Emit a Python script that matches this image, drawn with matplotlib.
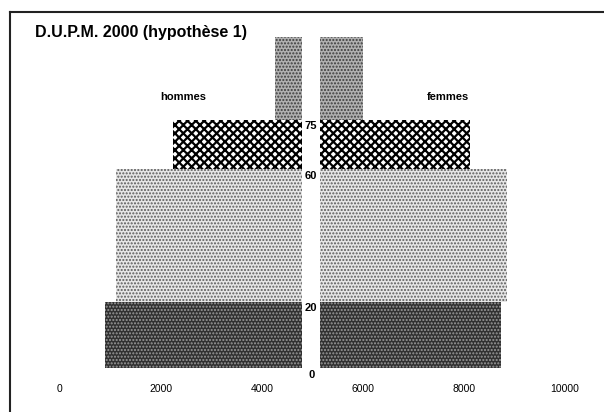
import matplotlib
matplotlib.use("Agg")
import matplotlib.pyplot as plt
from matplotlib.lines import Line2D

plt.rcParams["font.family"] = ["Liberation Sans", "DejaVu Sans"]

# age groups (bounds) and population per group
age_bounds = [0, 20, 60, 75, 100]
hommes = [3900, 3700, 2570, 550]
femmes = [3580, 3700, 2970, 850]
x_ticks = [0, 2000, 4000, 6000, 8000, 10000]
y_ticks = [0, 20, 60, 75]

male_end = 4800
female_start = 5150

fills = [
    dict(facecolor="#303030", edgecolor="#9a9a9a", hatch="....."),
    dict(facecolor="#e6e6e6", edgecolor="#5a5a5a", hatch="....."),
    dict(facecolor="white", edgecolor="black", hatch="xxxx"),
    dict(facecolor="#b0b0b0", edgecolor="#3c3c3c", hatch="....."),
]
hatch_lw = [1.0, 1.0, 1.6, 1.0]

fig = plt.figure(figsize=(6.04, 4.12), dpi=100)
ax = fig.add_axes([60 / 604, 44 / 412, 505 / 604, 331 / 412])

bottoms = age_bounds[:-1]
heights = [b - a for a, b in zip(age_bounds[:-1], age_bounds[1:])]
for i in range(len(bottoms)):
    with plt.rc_context({"hatch.linewidth": hatch_lw[i]}):
        ax.barh(bottoms[i], hommes[i], height=heights[i], left=male_end - hommes[i],
                align="edge", linewidth=0, **fills[i])
        ax.barh(bottoms[i], femmes[i], height=heights[i], left=female_start,
                align="edge", linewidth=0, **fills[i])

ax.set_xlim(0, 10000)
ax.set_ylim(0, 100)
ax.set_xticks(x_ticks)
ax.set_xticklabels([str(v) for v in x_ticks], fontsize=7.5)
ax.tick_params(axis="x", length=0, pad=11.5)
ax.set_yticks([])
for s in ax.spines.values():
    s.set_visible(False)

mid = (male_end + female_start) / 2
for a in y_ticks:
    ax.text(mid, a - 0.5, str(a), ha="center", va="top", fontsize=8, fontweight="bold")

ax.text(2450, 82, "hommes", ha="center", va="center", fontsize=8, fontweight="bold")
ax.text(7680, 82, "femmes", ha="center", va="center", fontsize=8, fontweight="bold")

fig.text(35 / 604, 1 - 32 / 412, "D.U.P.M. 2000 (hypothèse 1)", ha="left", va="center",
         fontsize=11.5, fontweight="bold")

# frame (left and top edges visible in the scan)
fig.add_artist(Line2D([10 / 604, 10 / 604], [0, 1 - 12 / 412], transform=fig.transFigure,
                      color="#222222", linewidth=1.5))
fig.add_artist(Line2D([10 / 604, 1], [1 - 12 / 412, 1 - 12 / 412], transform=fig.transFigure,
                      color="#222222", linewidth=1.5))

fig.savefig("out.png", dpi=100)
